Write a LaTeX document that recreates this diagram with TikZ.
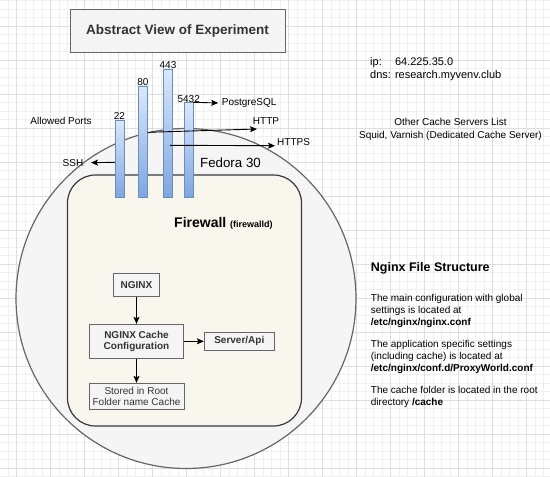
\documentclass[tikz,border=0pt]{standalone}
\usepackage{fontspec}
\setmainfont{Liberation Sans}
\usepackage{tikz}
\usetikzlibrary{positioning,calc,arrows.meta}
\definecolor{boxfill}{HTML}{F5F5F5}
\definecolor{boxline}{HTML}{666666}
\definecolor{boxtext}{HTML}{333333}
\definecolor{fwfill}{HTML}{F9F7ED}
\definecolor{fwline}{HTML}{36393D}
\definecolor{bartop}{HTML}{DAE8FC}
\definecolor{barbot}{HTML}{7EA6E0}
\definecolor{barline}{HTML}{6C8EBF}
\definecolor{gridminor}{HTML}{F0F0F0}
\definecolor{gridmajor}{HTML}{DEDEDE}
\newcommand{\fs}[2]{\fontsize{#1}{#2}\selectfont}
\newcommand{\pbar}[4]{\node [portbar, minimum height=#3, label={[portnum]above:#4}] (#1) at (#2) {}}

\tikzset{
  portbar/.style={draw=barline, top color=bartop, bottom color=barbot,
    minimum width=9pt, inner sep=0pt, anchor=south, label distance=3.4pt},
  portnum/.style={font=\fs{10}{12}, inner sep=0pt},
  plain/.style={inner sep=0pt, font=\fs{10}{12}},
  arr/.style={-{Stealth[length=7pt,width=6pt,inset=1.5pt]}, line width=0.9pt},
  flowbox/.style={draw=boxline, fill=boxfill, text=boxtext, inner sep=0pt,
    line width=0.9pt, align=center, font=\bfseries\fs{10}{11.7}},
}

\begin{document}
\begin{tikzpicture}[x=1pt, y=-1pt]

\useasboundingbox (0,0) rectangle (550,477);
\fill[white] (0,0) rectangle (550,477);

% grid
\foreach \i in {0,...,65}
  \draw[gridminor, line width=0.8pt] ({-0.3+8.5*\i},0) -- ++(0,477);
\foreach \j in {0,...,56}
  \draw[gridminor, line width=0.8pt] (0,{0.8+8.5*\j}) -- ++(550,0);
\foreach \i in {0,...,15}
  \draw[gridmajor, line width=0.8pt] ({16.7+34*\i},0) -- ++(0,477);
\foreach \j in {0,...,13}
  \draw[gridmajor, line width=0.8pt] (0,{26.3+34*\j}) -- ++(550,0);

% host and firewall
\draw[boxline, fill=boxfill, line width=1.2pt] (186,298.5) circle[radius=170pt];
\draw[fwline, fill=fwfill, line width=1.2pt, rounded corners=28pt] (67.5,175) rectangle (301.5,426);

\node[flowbox, line width=1pt, minimum width=215pt, minimum height=42.7pt,
  font=\bfseries\fs{13.5}{16}] (title) at (177.5,31.3) {Abstract View of Experiment};

% ports
\pbar{p22}{119.5,197}{77pt}{22};
\pbar{p80}{143,197}{111pt}{80};
\pbar{p443}{168,197}{128pt}{443};
\pbar{p5432}{188.7,197}{94.3pt}{5432};

\node[plain] (ports) at (61,120.7) {Allowed Ports};
\node[plain] (ssh) at (73,162.7) {SSH};
\node[plain, anchor=west] (pg) at (221.7,103) {PostgreSQL};
\node[plain] (http) at (266,121) {HTTP};
\node[plain, anchor=west] (https) at (277,142) {HTTPS};
\coordinate (httpend) at (257,129);
\coordinate (httpsend) at (275,145.7);

\draw[arr] ([yshift=-42.7pt]p22.north west) -- ([xshift=7.5pt]ssh.east);
\draw[arr] (p5432.north east) -- ([xshift=-3.5pt]pg.west);
\draw[arr] ([yshift=-46.7pt]p80.north east) -- (httpend);
\draw[arr] ([xshift=2pt,yshift=-76.7pt]p443.north) -- (httpsend);

\node[plain, font=\fs{13.3}{16}] (fedora) at (230.5,163) {Fedora 30};
\node[plain, anchor=base west] (fw) at (174,227)
  {\fs{14}{16}\textbf{Firewall} \fs{9}{11}\textbf{(firewalld)}};

% nginx flow
\node[flowbox, minimum width=46.7pt, minimum height=22.7pt] (nginx) at (136.5,284.7) {NGINX};
\node[flowbox, minimum width=94pt, minimum height=34pt] (cfg) at (136.5,341.3) {NGINX Cache\\Configuration};
\node[flowbox, minimum width=70pt, minimum height=18pt] (api) at (239.3,341.3) {Server/Api};
\node[flowbox, minimum width=95pt, minimum height=26pt, font=\fs{10}{11.7}] (stored) at (136.5,396.3)
  {Stored in Root\\Folder name Cache};

\draw[arr] (nginx) -- (cfg);
\draw[arr] (cfg) -- (api);
\draw[arr] (cfg) -- (stored);

% notes on the right
\node[plain, anchor=west, font=\fs{11}{12.7}] (addr) at (370,69.3)
  {\begin{tabular}{@{}l@{ }l@{}}ip: & 64.225.35.0\\ dns: & research.myvenv.club\end{tabular}};
\node[plain, align=center, font=\fs{10}{12.7}] (other) at (450.5,129.3)
  {Other Cache Servers List\\Squid, Varnish (Dedicated Cache Server)};

\node[plain, anchor=west, font=\bfseries\fs{12.5}{15}] (fstitle) at (370.7,268) {Nginx File Structure};
\node[plain, anchor=north west, align=left] (fsbody) at (370.7,294)
  {The main configuration with global\\settings is located at\\\textbf{/etc/nginx/nginx.conf}\\[10pt]
   The application specific settings\\(including cache) is located at\\\textbf{/etc/nginx/conf.d/ProxyWorld.conf}\\[10pt]
   The cache folder is located in the root\\directory \textbf{/cache}};

\end{tikzpicture}
\end{document}
